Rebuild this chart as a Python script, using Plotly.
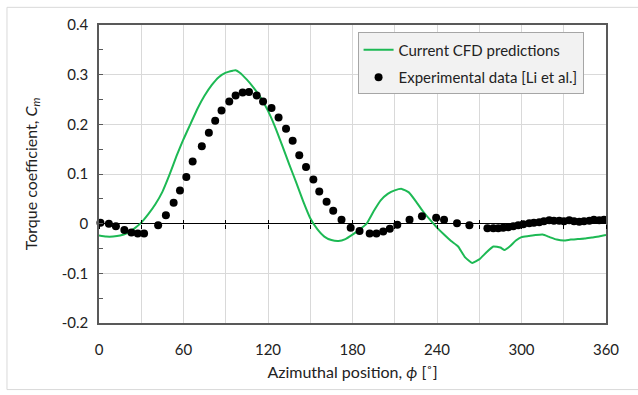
import plotly.graph_objects as go

# CFD predictions (azimuth deg, torque coefficient)
cfd_phi = [0, 5, 10, 15, 20, 25, 30, 35, 40, 45, 50, 55, 60, 65, 70, 75, 80, 85, 90, 95, 97,
           100, 105, 110, 115, 120, 125, 130, 135, 140, 145, 150, 155, 160, 165, 170, 175,
           180, 185, 190, 195, 200, 205, 210, 215, 220, 225, 230, 235, 240, 245, 250, 255,
           260, 265, 270, 275, 280, 285, 288, 292, 296, 300, 305, 310, 315, 320, 325, 330,
           335, 340, 345, 350, 355, 360]
cfd_cm = [-0.024, -0.026, -0.026, -0.024, -0.019, -0.010, 0.002, 0.019, 0.039, 0.064, 0.098,
          0.136, 0.170, 0.201, 0.232, 0.258, 0.279, 0.295, 0.304, 0.308, 0.309,
          0.304, 0.290, 0.273, 0.253, 0.227, 0.195, 0.158, 0.120, 0.083, 0.045, 0.011,
          -0.011, -0.026, -0.033, -0.035, -0.031, -0.022, -0.012, 0.000, 0.025, 0.047,
          0.060, 0.067, 0.070, 0.063, 0.045, 0.025, 0.008, -0.008, -0.022, -0.035, -0.046,
          -0.068, -0.079, -0.072, -0.058, -0.046, -0.048, -0.053, -0.045, -0.034, -0.027,
          -0.025, -0.023, -0.022, -0.027, -0.032, -0.034, -0.032, -0.031, -0.030, -0.028,
          -0.026, -0.023]

# Experimental data [Li et al.]
exp_phi = [1, 7, 12, 18, 23, 27.5, 32, 42, 47.5, 53, 57.5, 62, 66.5, 73, 78, 82.5, 87, 92.5,
           97, 102, 106.5, 112, 116.5, 122.5, 127.5, 132.8, 137.5, 142.2, 147, 152.2, 156.4,
           161.6, 166.3, 172.2, 178.7, 185, 192.2, 197, 201.8, 206.5, 211.8, 220.5, 229.3,
           239.4, 245, 254.2, 263, 275.8, 280, 283.5, 287, 290.6, 294.2, 297.7, 301.3, 305.5,
           308.8, 312.6, 315.9, 319.7, 323, 326.8, 330.2, 333.9, 337.3, 341, 344.4, 348.2,
           351.4, 355.2, 358.6]
exp_cm = [0.002, 0.0, -0.005, -0.013, -0.018, -0.020, -0.020, -0.003, 0.017, 0.042, 0.067,
          0.094, 0.125, 0.156, 0.183, 0.207, 0.228, 0.246, 0.258, 0.264, 0.265, 0.258, 0.246,
          0.233, 0.214, 0.191, 0.167, 0.138, 0.114, 0.089, 0.065, 0.044, 0.026, 0.008, -0.008,
          -0.015, -0.020, -0.020, -0.016, -0.010, -0.002, 0.008, 0.015, 0.012, 0.008, 0.001,
          -0.003, -0.009, -0.009, -0.009, -0.008, -0.007, -0.005, -0.003, -0.001, 0.001,
          0.002, 0.003, 0.005, 0.007, 0.006, 0.006, 0.005, 0.007, 0.005, 0.004, 0.005, 0.006,
          0.008, 0.007, 0.008]

y_tickvals = [-0.2, -0.1, 0, 0.1, 0.2, 0.3, 0.4]
y_ticktext = ["-0.2", "-0.1", "0", "0.1", "0.2", "0.3", "0.4"]
x_tickvals = [0, 60, 120, 180, 240, 300, 360]

FONT = "Lato, 'Open Sans', sans-serif"
TXT = "#222222"
GRID = "#d9d9d9"

fig = go.Figure()
fig.add_trace(go.Scatter(x=cfd_phi, y=cfd_cm, mode="lines", name="Current CFD predictions",
                         line=dict(color="#1db954", width=2, shape="spline", smoothing=0.4),
                         legendgroup="a"))
fig.add_trace(go.Scatter(x=exp_phi, y=exp_cm, mode="markers", name="Experimental data [Li et al.]",
                         marker=dict(color="black", size=8), cliponaxis=False,
                         legendgroup="b"))

fig.update_layout(
    width=638, height=395,
    margin=dict(l=99, r=32, t=25, b=72),
    paper_bgcolor="white", plot_bgcolor="white",
    font=dict(family=FONT, size=15, color=TXT),
    showlegend=True,
    legend=dict(x=0.51, y=0.975, xanchor="left", yanchor="top",
                bgcolor="#f2f2f2", bordercolor="#a6a6a6", borderwidth=1,
                font=dict(size=15, color=TXT), itemwidth=30,
                traceorder="grouped", tracegroupgap=5),
    xaxis=dict(range=[0, 360], tickvals=x_tickvals, showgrid=True, gridcolor=GRID, gridwidth=1,
               minor=dict(dtick=30, showgrid=True, gridcolor=GRID, gridwidth=1),
               ticks="", showline=True, linecolor="#595959", linewidth=1.5, mirror=True,
               zeroline=False, ticklabelstandoff=12,
               title=dict(text="Azimuthal position, <i>ϕ</i> [˚]", font=dict(size=16), standoff=10)),
    xaxis2=dict(range=[0, 360], dtick=30, overlaying="x", anchor="free", position=1/3,
                side="bottom", ticks="outside", ticklen=4, tickcolor="black", tickwidth=1,
                showticklabels=False, showgrid=False, showline=False, zeroline=False),
    xaxis3=dict(range=[0, 360], dtick=30, overlaying="x", anchor="free", position=1/3,
                side="bottom", ticks="inside", ticklen=4, tickcolor="black", tickwidth=1,
                showticklabels=False, showgrid=False, showline=False, zeroline=False),
    yaxis=dict(range=[-0.2, 0.4], tickvals=y_tickvals, ticktext=y_ticktext,
               showgrid=True, gridcolor=GRID, gridwidth=1,
               ticks="inside", ticklen=4, tickcolor="#595959",
               minor=dict(dtick=0.05, ticks="inside", ticklen=4, tickcolor="#595959", showgrid=False),
               showline=True, linecolor="#595959", linewidth=1.5, mirror=True,
               zeroline=True, zerolinecolor="black", zerolinewidth=1.3,
               ticklabelstandoff=6,
               title=dict(text="Torque coefficient, <i>C<sub>m</sub></i>", font=dict(size=16), standoff=20)),
    shapes=[dict(type="rect", xref="paper", yref="paper", x0=-0.1815, x1=1.067,
                 y0=-0.2234, y1=1.0593, line=dict(color="#d9d9d9", width=1), layer="below")],
)
# ensure overlay tick axes are drawn
fig.add_trace(go.Scatter(x=[None], y=[None], xaxis="x2", showlegend=False, hoverinfo="skip"))
fig.add_trace(go.Scatter(x=[None], y=[None], xaxis="x3", showlegend=False, hoverinfo="skip"))

fig.write_html("out.html")
